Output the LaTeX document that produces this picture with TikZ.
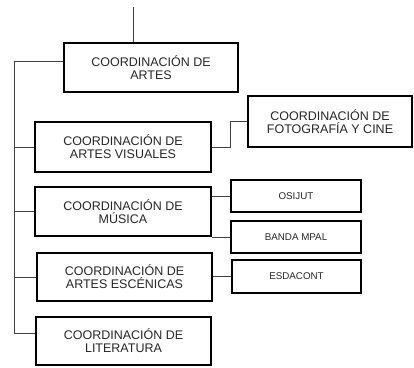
\documentclass[tikz,border=0pt]{standalone}
\usepackage{fontspec}
\setmainfont{Liberation Sans}
\usepackage{tikz}
\usetikzlibrary{calc}
\usetikzlibrary{positioning}

\begin{document}
\begin{tikzpicture}[x=1pt,y=1pt,
                bigbox/.style={draw=black, line width=1.6pt, align=center, inner sep=0pt,
                    minimum width=175pt, minimum height=49pt, text=black!85,
                    font=\fontsize{12.5}{12.8}\selectfont},
                smallbox/.style={draw=black, line width=1.6pt, align=center, inner sep=0pt,
                    minimum width=130pt, minimum height=32pt, text=black!85,
                    font=\fontsize{9.8}{11}\selectfont},
                link/.style={draw=black!75, line width=0.8pt}]
                \useasboundingbox (0,0) rectangle (414,367);
                \node[bigbox, minimum width=174pt] (artes) at (151,299.5) {COORDINACIÓN DE\\ARTES};
                \node[bigbox, minimum width=176pt, minimum height=50pt] (visuales) at (123,220) {COORDINACIÓN DE\\ARTES VISUALES};
                \node[bigbox, minimum width=164pt, minimum height=51pt] (foto) at (330,245.5) {COORDINACIÓN DE\\FOTOGRAFÍA Y CINE};
                \node[bigbox, minimum width=176pt] (musica) at (123,155.5) {COORDINACIÓN DE\\MÚSICA};
                \node[bigbox, minimum height=48pt] (escenicas) at (124.5,90) {COORDINACIÓN DE\\ARTES ESCÉNICAS};
                \node[bigbox, minimum height=48pt] (literatura) at (123.5,26) {COORDINACIÓN DE\\LITERATURA};
                \node[smallbox] (osijut) at (296,171) {OSIJUT};
                \node[smallbox] (banda) at (296,130) {BANDA MPAL};
                \node[smallbox, minimum width=129pt, minimum height=33pt] (esdacont) at (296.5,90.5) {ESDACONT};
                % trunk
                \coordinate (top) at (133,360);
                \coordinate (trunktop) at (14,306);
                \coordinate (trunkbot) at (14,34);
                \draw[link] (top) -- (top |- artes.north);
                \draw[link] (trunktop -| artes.west) -- (trunktop) -- (trunkbot) -- (trunkbot -| literatura.west);
                \draw[link] (trunktop |- visuales.west) -- (visuales.west);
                \draw[link] (trunktop |- musica.west) -- (musica.west);
                \draw[link] (trunktop |- escenicas.west) -- (escenicas.west);
                % right side
                \draw[link] (visuales.east) -- ++(19,0) |- (foto.west);
                \draw[link] (osijut.west -| musica.east) -- (osijut.west);
                \draw[link] (banda.west -| musica.east) -- (banda.west);
                \draw[link] (esdacont.west -| escenicas.east) -- (esdacont.west);
            \end{tikzpicture}
\end{document}
